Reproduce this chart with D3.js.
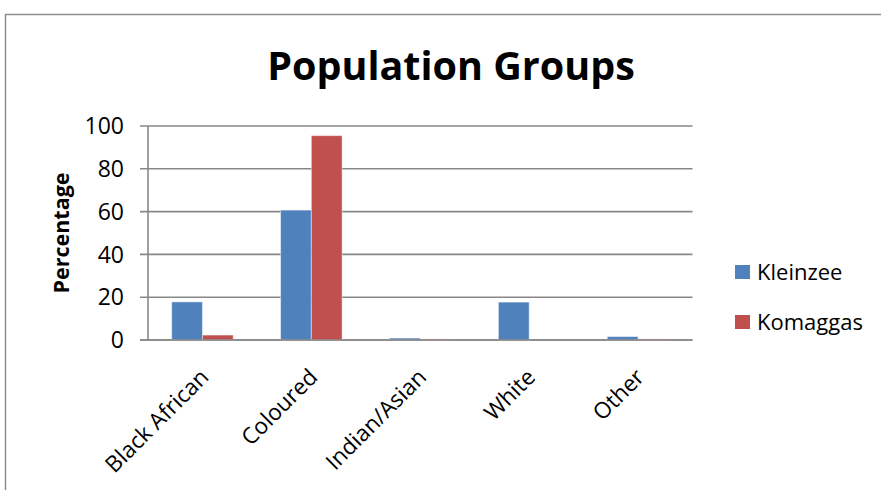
<!DOCTYPE html>
<html>
<head>
<meta charset="utf-8">
<script src="https://cdn.jsdelivr.net/npm/d3@7"></script>
<style>
    html, body { margin: 0; padding: 0; background: #fff; }
    svg { display: block; font-family: "Open Sans", Lato, sans-serif; }
</style>
</head>
<body>
<div id="chart"></div>
<script>
'use strict';

var categories = ['Black African', 'Coloured', 'Indian/Asian', 'White', 'Other'];
var seriesNames = ['Kleinzee', 'Komaggas'];
var kleinzee = [17.8, 60.7, 0.9, 17.7, 1.6];
var komaggas = [2.3, 95.5, 0.5, 0, 0.5];
var yTicks = [0, 20, 40, 60, 80, 100];
var colors = ['#4F81BD', '#C0504D'];

var width = 881,
    height = 490,
    margin = {top: 126, right: 188.5, bottom: 150, left: 148},
    plotW = width - margin.left - margin.right,
    plotH = height - margin.top - margin.bottom;

var svg = d3.select('#chart').append('svg')
    .attr('width', width)
    .attr('height', height);

// outer frame (runs off the right and bottom edges)
svg.append('path')
    .attr('d', 'M5.5,' + (height + 2) + 'V14.5H' + (width + 2))
    .attr('fill', 'none')
    .attr('stroke', '#8e8e8e')
    .attr('stroke-width', 1.5);

svg.append('text')
    .attr('x', 451)
    .attr('y', 80)
    .attr('text-anchor', 'middle')
    .style('font-size', '39.5px')
    .style('font-weight', 'bold')
    .text('Population Groups');

var g = svg.append('g')
    .attr('transform', 'translate(' + margin.left + ',' + margin.top + ')');

var x0 = d3.scaleBand()
    .domain(categories)
    .range([0, plotW])
    .paddingInner(0)
    .paddingOuter(0);

var x1 = d3.scaleBand()
    .domain(seriesNames)
    .range([0, x0.bandwidth()])
    .paddingOuter(0.77)
    .paddingInner(0);

var y = d3.scaleLinear()
    .domain([0, 100])
    .range([plotH, 0]);

// gridlines + tick marks
g.selectAll('.grid')
    .data(yTicks)
    .enter().append('line')
    .attr('class', 'grid')
    .attr('x1', -8)
    .attr('x2', plotW)
    .attr('y1', function (d) { return y(d); })
    .attr('y2', function (d) { return y(d); })
    .attr('stroke', '#878787')
    .attr('stroke-width', 1.6);

var table = categories.map(function (c, i) {
    return {category: c, values: [kleinzee[i], komaggas[i]]};
});

var groups = g.selectAll('.group')
    .data(table)
    .enter().append('g')
    .attr('class', 'group')
    .attr('transform', function (d) { return 'translate(' + x0(d.category) + ',0)'; });

groups.selectAll('rect')
    .data(function (d) {
        return d.values.map(function (v, i) { return {name: seriesNames[i], value: v, i: i}; });
    })
    .enter().append('rect')
    .attr('x', function (d) { return x1(d.name); })
    .attr('width', x1.bandwidth())
    .attr('y', function (d) { return y(d.value); })
    .attr('height', function (d) { return plotH - y(d.value); })
    .attr('fill', function (d) { return colors[d.i]; })
    .attr('stroke', 'rgba(255,255,255,0.45)')
    .attr('stroke-width', 1);

// y axis line
g.append('line')
    .attr('x1', 0).attr('x2', 0)
    .attr('y1', 0).attr('y2', plotH)
    .attr('stroke', '#878787')
    .attr('stroke-width', 1.6);

// baseline on top of bars
g.append('line')
    .attr('x1', -8).attr('x2', plotW)
    .attr('y1', plotH).attr('y2', plotH)
    .attr('stroke', '#878787')
    .attr('stroke-width', 1.6);

g.selectAll('.ylabel')
    .data(yTicks)
    .enter().append('text')
    .attr('class', 'ylabel')
    .attr('x', -24)
    .attr('y', function (d) { return y(d); })
    .attr('dy', '0.36em')
    .attr('text-anchor', 'end')
    .style('font-size', '23px')
    .text(function (d) { return d; });

g.selectAll('.xlabel')
    .data(categories)
    .enter().append('text')
    .attr('class', 'xlabel')
    .attr('text-anchor', 'end')
    .attr('dy', '0.6em')
    .attr('transform', function (d) {
        return 'translate(' + (x0(d) + x0.bandwidth() / 2 - 2) + ',' + (plotH + 29) + ') rotate(-45)';
    })
    .style('font-size', '22.5px')
    .text(function (d) { return d; });

svg.append('text')
    .attr('transform', 'translate(69,233) rotate(-90)')
    .attr('text-anchor', 'middle')
    .style('font-size', '21.5px')
    .style('font-weight', 'bold')
    .text('Percentage');

var legend = svg.selectAll('.legend')
    .data(seriesNames)
    .enter().append('g')
    .attr('class', 'legend')
    .attr('transform', function (d, i) { return 'translate(735,' + (265 + i * 50) + ')'; });

legend.append('rect')
    .attr('width', 15)
    .attr('height', 14)
    .attr('fill', function (d, i) { return colors[i]; });

legend.append('text')
    .attr('x', 22)
    .attr('y', 15)
    .style('font-size', '22px')
    .text(function (d) { return d; });
</script>
</body>
</html>
